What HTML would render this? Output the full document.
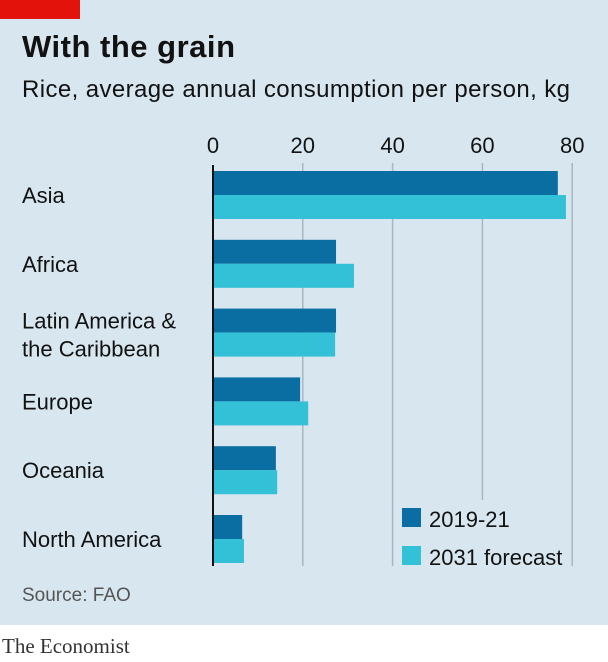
<!DOCTYPE html>
<html><head><meta charset="utf-8"><style>
body{margin:0;width:608px;height:662px;background:#fff;font-family:"Liberation Sans",sans-serif;}
svg{display:block}
</style></head><body>
<svg width="608" height="662">
<rect x="0" y="0" width="608" height="625" fill="#d7e6ef"/>
<rect x="0" y="0" width="80" height="19" fill="#e3120b"/>
<text x="22" y="57" font-size="31" font-weight="bold" fill="#121212" textLength="213">With the grain</text>
<text x="22" y="97" font-size="24" fill="#121212" textLength="548">Rice, average annual consumption per person, kg</text>
<g id="grid"></g>
<g id="bars"></g>
<g id="labels"></g>
<g>
<rect x="396" y="500" width="170" height="75" fill="#d7e6ef"/>
<rect x="402" y="508" width="19" height="19" fill="#0b6ea3"/>
<text x="429" y="527" font-size="22" fill="#121212">2019-21</text>
<rect x="402" y="546" width="19" height="19" fill="#33c1d7"/>
<text x="429" y="565" font-size="22" fill="#121212">2031 forecast</text>
</g>
<line x1="213" y1="165" x2="213" y2="566" stroke="#121212" stroke-width="2"/>
<text x="22" y="601" font-size="19" fill="#555">Source: FAO</text>
<text x="2" y="653" font-size="21" font-family="Liberation Serif,serif" fill="#333">The Economist</text>
</svg>
<script>
const categories=["Asia","Africa","Latin America &|the Caribbean","Europe","Oceania","North America"];
const series2019=[76.8,27.4,27.4,19.4,14.0,6.5];
const series2031=[78.6,31.4,27.2,21.2,14.3,6.9];
const ticks=[0,20,40,60,80];
const NS="http://www.w3.org/2000/svg";
const x=v=>213+v*4.49;
const gy=i=>171+i*68.8;
function mk(t,a,p){const e=document.createElementNS(NS,t);for(const k in a)e.setAttribute(k,a[k]);p.appendChild(e);return e;}
const grid=document.getElementById('grid'),bars=document.getElementById('bars'),labels=document.getElementById('labels');
ticks.forEach(t=>{
 if(t>0){const l=mk('line',{x1:x(t),y1:163,x2:x(t),y2:566,stroke:'#a9b7c0','stroke-width':1.5},grid);
 
 }
 const tx=mk('text',{x:x(t),y:153,'font-size':22,fill:'#121212','text-anchor':'middle'},grid);
 tx.textContent=t;
 
 
});
categories.forEach((c,i)=>{
 const y=gy(i);
 const b1=mk('rect',{x:213,y:y,width:x(series2019[i])-213,height:24,fill:'#0b6ea3'},bars);
 
 
 const b2=mk('rect',{x:213,y:y+24,width:x(series2031[i])-213,height:24,fill:'#33c1d7'},bars);
 
 
 const parts=c.split('|');
 const t=mk('text',{'font-size':22,fill:'#121212'},labels);
 
 
 parts.forEach((p,j)=>{const s=mk('tspan',{x:22,y:(parts.length>1?y+20+j*28:y+32)},t);s.textContent=p;});
});
</script>
</body></html>
